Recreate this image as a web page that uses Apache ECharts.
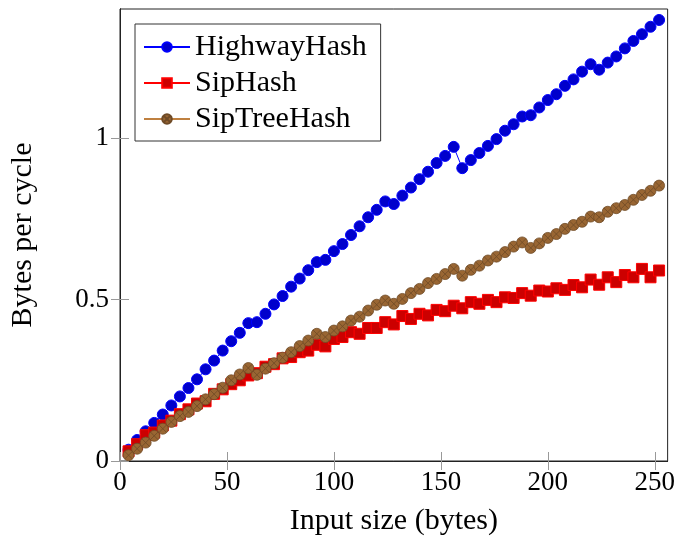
<!DOCTYPE html>
<html>
<head>
<meta charset="utf-8">
<script src="https://cdn.jsdelivr.net/npm/echarts@6/dist/echarts.min.js"></script>
<style>
  html, body { margin: 0; padding: 0; background: #fff; }
  #main { width: 678px; height: 541px; }
</style>
</head>
<body>
<div id="main"></div>
<script>
// input sizes in bytes
const inputSizes = [4, 8, 12, 16, 20, 24, 28, 32, 36, 40, 44, 48, 52, 56, 60, 64,
  68, 72, 76, 80, 84, 88, 92, 96, 100, 104, 108, 112, 116, 120, 124, 128,
  132, 136, 140, 144, 148, 152, 156, 160, 164, 168, 172, 176, 180, 184, 188, 192,
  196, 200, 204, 208, 212, 216, 220, 224, 228, 232, 236, 240, 244, 248, 252]

// bytes per cycle
const highwayHash = [0.035, 0.065, 0.092, 0.118, 0.144, 0.172, 0.200, 0.226, 0.253, 0.284, 0.311, 0.342, 0.371, 0.397, 0.427, 0.430,
  0.456, 0.485, 0.511, 0.540, 0.565, 0.591, 0.616, 0.623, 0.650, 0.672, 0.700, 0.727, 0.755, 0.778, 0.804, 0.796,
  0.822, 0.847, 0.873, 0.896, 0.923, 0.945, 0.973, 0.907, 0.932, 0.954, 0.976, 0.997, 1.023, 1.043, 1.067, 1.071,
  1.095, 1.118, 1.136, 1.162, 1.182, 1.206, 1.229, 1.212, 1.234, 1.253, 1.278, 1.301, 1.322, 1.345, 1.366]

const sipHash = [0.030, 0.052, 0.080, 0.088, 0.110, 0.125, 0.145, 0.160, 0.178, 0.185, 0.208, 0.222, 0.238, 0.250, 0.265, 0.272,
  0.292, 0.300, 0.318, 0.322, 0.337, 0.342, 0.360, 0.355, 0.378, 0.384, 0.399, 0.394, 0.412, 0.412, 0.430, 0.423,
  0.449, 0.440, 0.456, 0.451, 0.468, 0.464, 0.481, 0.473, 0.492, 0.487, 0.499, 0.492, 0.507, 0.505, 0.520, 0.512,
  0.528, 0.525, 0.535, 0.530, 0.545, 0.538, 0.562, 0.546, 0.569, 0.554, 0.576, 0.569, 0.595, 0.569, 0.590]

const sipTreeHash = [0.018, 0.038, 0.057, 0.078, 0.100, 0.121, 0.139, 0.152, 0.170, 0.191, 0.207, 0.227, 0.250, 0.268, 0.288, 0.267,
  0.286, 0.303, 0.320, 0.337, 0.356, 0.373, 0.394, 0.384, 0.404, 0.417, 0.435, 0.447, 0.466, 0.484, 0.497, 0.487,
  0.502, 0.520, 0.533, 0.551, 0.564, 0.579, 0.595, 0.574, 0.592, 0.605, 0.621, 0.633, 0.647, 0.664, 0.677, 0.660,
  0.674, 0.691, 0.703, 0.719, 0.731, 0.741, 0.757, 0.755, 0.772, 0.783, 0.793, 0.809, 0.824, 0.837, 0.853]

const seriesNames = ['HighwayHash', 'SipHash', 'SipTreeHash']

// tick positions
const xTicks = [0, 50, 100, 150, 200, 250]
const yTicks = [0, 0.5, 1]

const font = 'Liberation Serif'
// circle with a cross, like the otimes mark
const otimes = 'path://M10 0A10 10 0 1 1 -10 0A10 10 0 1 1 10 0ZM-7.07 -7.07L7.07 7.07M7.07 -7.07L-7.07 7.07'

const toPairs = (vals) => inputSizes.map((x, i) => [x, vals[i]])

const myChart = echarts.init(document.getElementById('main'))

const tickStyle = (vals) => ({ show: true, inside: true, length: 9, customValues: vals, lineStyle: { color: '#999', width: 1 } })
const lineStyle = { show: true, lineStyle: { color: '#222', width: 1 } }

myChart.setOption({
  animation: false,
  textStyle: { fontFamily: font },
  grid: { left: 118, right: 10, top: 9, bottom: 78, show: true, borderColor: '#222', borderWidth: 1 },
  legend: {
    orient: 'vertical',
    left: 135,
    top: 24,
    data: seriesNames,
    backgroundColor: '#fff',
    borderColor: '#333',
    borderWidth: 1,
    padding: [8, 14, 7, 8],
    itemWidth: 46,
    itemHeight: 12,
    itemGap: 6,
    textStyle: { fontFamily: font, fontSize: 30, color: '#000' },
  },
  xAxis: [
    {
      type: 'value', position: 'bottom', min: 0, max: 256,
      name: 'Input size (bytes)', nameLocation: 'middle', nameGap: 45,
      nameTextStyle: { fontFamily: font, fontSize: 30, color: '#000' },
      axisLine: lineStyle, axisTick: tickStyle(xTicks), splitLine: { show: false },
      axisLabel: { fontFamily: font, fontSize: 27, color: '#000', margin: 8, customValues: xTicks },
    },
    {
      type: 'value', position: 'top', min: 0, max: 256,
      axisLine: lineStyle, axisTick: tickStyle(xTicks), splitLine: { show: false },
      axisLabel: { show: false },
    },
  ],
  yAxis: [
    {
      type: 'value', position: 'left', min: 0, max: 1.4,
      name: 'Bytes per cycle', nameLocation: 'middle', nameGap: 82,
      nameTextStyle: { fontFamily: font, fontSize: 30, color: '#000' },
      axisLine: lineStyle, axisTick: tickStyle(yTicks), splitLine: { show: false },
      axisLabel: { fontFamily: font, fontSize: 27, color: '#000', margin: 11, customValues: yTicks },
    },
    {
      type: 'value', position: 'right', min: 0, max: 1.4,
      axisLine: lineStyle, axisTick: tickStyle(yTicks), splitLine: { show: false },
      axisLabel: { show: false },
    },
  ],
  series: [
    {
      name: 'HighwayHash',
      type: 'line',
      data: toPairs(highwayHash),
      symbol: 'circle',
      symbolSize: 11,
      lineStyle: { color: '#0000ff', width: 1 },
      itemStyle: { color: '#0000cc', borderColor: '#0000ff', borderWidth: 1 },
    },
    {
      name: 'SipHash',
      type: 'line',
      data: toPairs(sipHash),
      symbol: 'rect',
      symbolSize: 11,
      lineStyle: { color: '#ff0000', width: 1 },
      itemStyle: { color: '#cc0000', borderColor: '#ff0000', borderWidth: 1 },
    },
    {
      name: 'SipTreeHash',
      type: 'line',
      data: toPairs(sipTreeHash),
      symbol: otimes,
      symbolSize: 11,
      symbolKeepAspect: true,
      lineStyle: { color: '#bf8040', width: 1 },
      itemStyle: { color: '#996633', borderColor: '#6e4a26', borderWidth: 0.8 },
    },
  ],
})
</script>
</body>
</html>
